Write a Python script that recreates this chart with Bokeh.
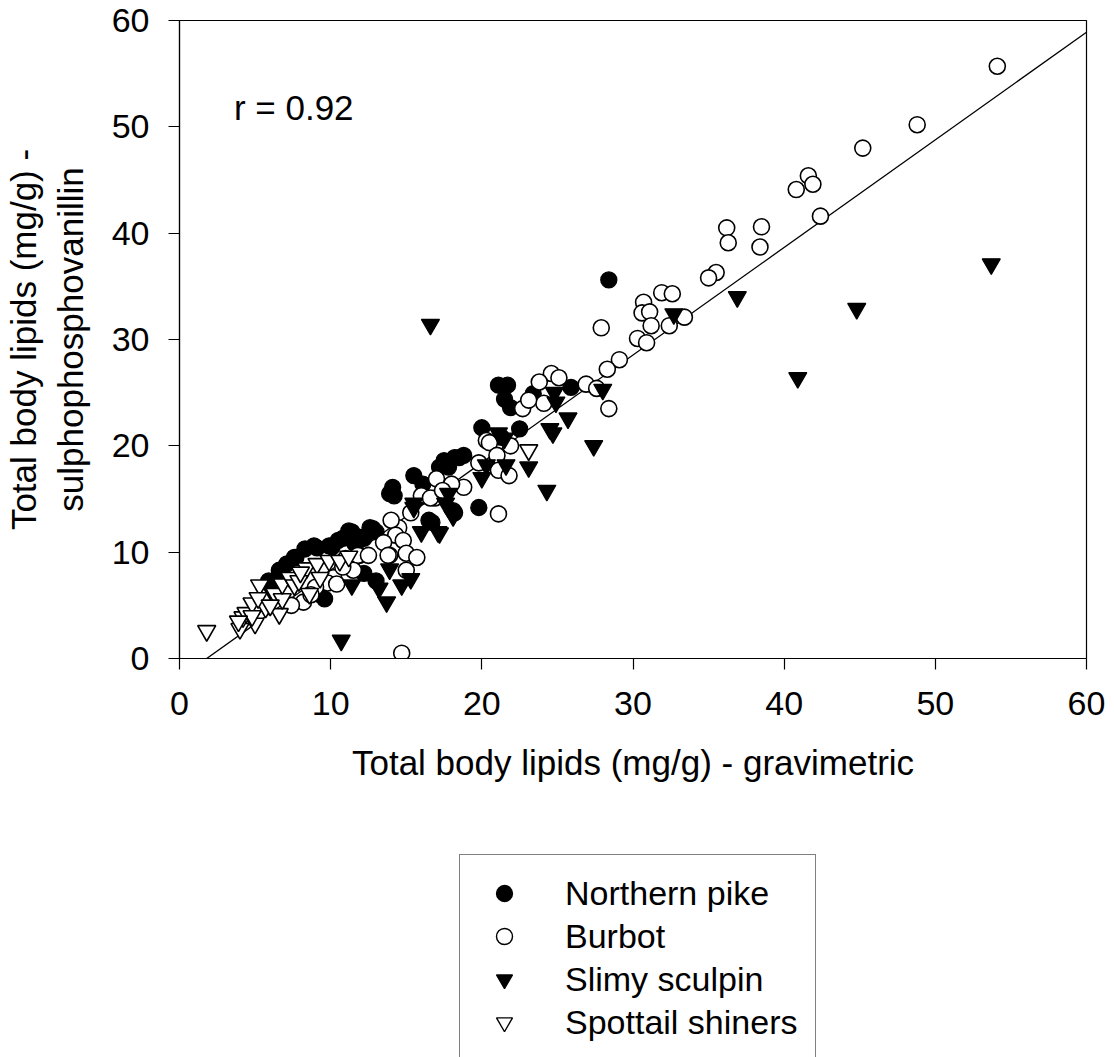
from bokeh.plotting import figure
from bokeh.layouts import column
from bokeh.models import Legend, LegendItem, Range1d, FixedTicker, Label
from bokeh.embed import file_html
from bokeh.resources import INLINE

# ---------------- data ----------------
pike_x = [28.4, 21.1, 21.7, 21.5, 21.9, 25.9, 23.4, 22.5, 20.0, 21.3, 17.5, 18.2, 18.8, 18.5,
          17.2, 17.8, 15.5, 19.8, 18.1, 18.2, 16.7, 16.5, 14.1, 13.9, 14.2, 16.1, 12.6, 12.8,
          13.0, 11.4, 11.2, 12.0, 12.2, 10.8, 10.5, 9.9, 9.1, 8.9, 8.3, 7.7, 7.6, 7.1, 6.6,
          5.9, 9.6, 9.3, 12.2, 13.0, 10.1, 11.6]
pike_y = [35.6, 25.7, 25.7, 24.4, 23.6, 25.5, 24.9, 21.6, 21.7, 20.8, 18.6, 18.9, 19.1, 18.9,
          18.0, 18.0, 17.2, 14.2, 13.9, 13.7, 12.8, 13.0, 16.1, 15.5, 15.3, 16.4, 12.3, 12.2,
          11.9, 11.9, 12.0, 11.4, 11.3, 11.3, 11.1, 10.6, 10.4, 10.6, 10.3, 9.5, 9.5, 8.9, 8.3,
          7.3, 5.6, 6.0, 8.0, 7.3, 10.5, 10.8]

burbot_x = [54.1, 48.8, 45.2, 41.6, 41.9, 40.8, 42.4, 36.2, 36.3, 38.5, 38.4, 35.5, 35.0, 31.9,
            32.6, 30.7, 30.6, 31.1, 31.2, 33.4, 32.4, 30.3, 30.9, 27.9, 29.1, 28.3, 26.9, 27.6,
            28.4, 24.6, 25.1, 23.8, 24.1, 22.7, 23.1, 20.3, 20.5, 21.9, 21.0, 19.8, 21.1, 21.8,
            18.8, 17.5, 17.0, 16.1, 16.9, 21.1, 15.3, 16.0, 16.6, 18.0, 17.4, 14.5, 14.0, 14.3,
            13.5, 14.8, 15.0, 15.7, 13.9, 11.9, 11.0, 11.8, 12.5, 11.5, 10.2, 9.8, 8.2, 7.4,
            9.0, 13.8, 14.7, 15.0, 10.4, 8.7, 10.8]
burbot_y = [55.7, 50.2, 48.0, 45.4, 44.6, 44.1, 41.6, 40.5, 39.1, 40.6, 38.7, 36.3, 35.8, 34.4,
            34.3, 33.5, 32.5, 32.6, 31.3, 32.1, 31.3, 30.1, 29.7, 31.1, 28.1, 27.2, 25.8, 25.4,
            23.5, 26.8, 26.4, 26.0, 24.0, 23.5, 24.3, 20.5, 20.3, 20.0, 19.1, 18.4, 17.7, 17.2,
            16.1, 16.1, 16.9, 15.3, 15.1, 13.6, 13.7, 15.3, 15.1, 16.4, 15.8, 12.3, 13.0, 11.6,
            10.9, 11.1, 9.9, 9.5, 9.7, 9.7, 9.4, 9.7, 9.7, 8.3, 7.6, 7.1, 5.3, 5.0,
            6.7, 9.7, 0.5, 8.3, 7.0, 6.0, 8.6]

sculpin_x = [53.7, 36.9, 44.8, 32.7, 40.9, 28.0, 27.4, 16.6, 10.7, 24.8, 24.9, 25.7, 24.5, 24.7,
             21.1, 21.5, 23.1, 24.3, 20.3, 21.6, 20.0, 17.8, 18.1, 16.0, 17.1, 15.5, 15.5, 17.6,
             17.2, 11.4, 13.2, 13.7, 14.7, 15.3, 13.9, 6.0]
sculpin_y = [37.1, 34.0, 32.9, 32.4, 26.4, 25.3, 20.0, 31.4, 1.7, 25.0, 24.1, 22.6, 21.6, 21.2,
             21.2, 20.7, 18.0, 15.8, 18.2, 18.2, 17.0, 15.5, 13.4, 11.9, 11.9, 14.6, 14.2, 14.6,
             11.8, 6.9, 6.6, 5.3, 6.9, 7.5, 8.4, 6.5]

shiner_x = [1.8, 4.0, 4.2, 4.4, 4.8, 5.0, 5.3, 5.7, 6.3, 6.6, 6.8, 6.8, 7.3, 7.6, 8.4, 9.1, 8.6,
            9.3, 9.9, 10.6, 5.2, 4.8, 23.1, 7.9, 6.0, 8.0, 11.2, 3.9]
shiner_y = [2.6, 2.8, 3.9, 4.3, 5.2, 3.3, 6.9, 4.8, 6.1, 4.2, 5.6, 7.0, 7.6, 6.9, 8.5, 8.9, 6.1,
            7.6, 9.2, 9.2, 5.7, 4.0, 19.6, 7.3, 5.0, 8.1, 9.6, 3.5]

species = ["Northern pike", "Burbot", "Slimy sculpin", "Spottail shiners"]

fit_slope = 1.012
fit_intercept = -1.82
r_value = 0.92

x_ticks = [0, 10, 20, 30, 40, 50, 60]
y_ticks = [0, 10, 20, 30, 40, 50, 60]

FONT = "Liberation Sans"
W = 1114
H_MAIN = 790
H_LEG = 1057 - H_MAIN

p = figure(width=W, height=H_MAIN, output_backend="svg", toolbar_location=None,
           x_range=Range1d(0, 60), y_range=Range1d(0, 60),
           min_border_left=178, min_border_right=28, min_border_top=20,
           min_border_bottom=H_MAIN - 658,
           background_fill_color="white", border_fill_color="white")
p.outline_line_color = "black"
p.outline_line_width = 1.2
p.xgrid.visible = False
p.ygrid.visible = False

for ax, ticks in ((p.xaxis, x_ticks), (p.yaxis, y_ticks)):
    ax.ticker = FixedTicker(ticks=ticks)
    ax.major_tick_in = 0
    ax.major_tick_out = 11
    ax.minor_tick_in = 0
    ax.minor_tick_out = 0
    ax.axis_line_color = "black"
    ax.axis_line_width = 1.2
    ax.major_tick_line_color = "black"
    ax.major_tick_line_width = 1.2
    ax.major_label_text_font = FONT
    ax.major_label_text_font_size = "34px"
    ax.major_label_text_color = "black"
    ax.axis_label_text_font = FONT
    ax.axis_label_text_font_size = "35px"
    ax.axis_label_text_font_style = "normal"
    ax.axis_label_text_color = "black"

p.xaxis.axis_label = "Total body lipids (mg/g) - gravimetric"
p.yaxis.axis_label = "Total body lipids (mg/g) -\nsulphophosphovanillin"
p.xaxis.major_label_standoff = 22
p.yaxis.major_label_standoff = 19
p.xaxis.axis_label_standoff = 25
p.yaxis.axis_label_standoff = 19

# regression line
x0 = -fit_intercept / fit_slope
lx = [x0, 60]
ly = [fit_slope * v + fit_intercept for v in lx]
p.line(lx, ly, line_color="black", line_width=1.3)

p.scatter(pike_x, pike_y, marker="circle", size=16, fill_color="black",
          line_color="black", line_width=1.3)
p.scatter(burbot_x, burbot_y, marker="circle", size=16, fill_color="white",
          line_color="black", line_width=1.6)
p.scatter(sculpin_x, sculpin_y, marker="inverted_triangle", size=18, fill_color="black",
          line_color="black", line_width=1.3)
p.scatter(shiner_x, shiner_y, marker="inverted_triangle", size=18, fill_color="white",
          line_color="black", line_width=1.6)

p.add_layout(Label(x=3.6, y=51.8, text=f"r = {r_value}", text_font=FONT,
                   text_font_size="35px", text_baseline="middle", text_color="black"))

# ---------------- legend panel (below the plot) ----------------
# ranges chosen so that the single proxy point of each series lies outside the panel
q = figure(width=W, height=H_LEG, output_backend="svg", toolbar_location=None,
           x_range=Range1d(1000, 2000), y_range=Range1d(1000, 2000),
           x_axis_type=None, y_axis_type=None,
           min_border_left=0, min_border_right=0, min_border_top=0, min_border_bottom=0,
           background_fill_color="white", border_fill_color="white")
q.outline_line_color = None
q.xgrid.visible = False
q.ygrid.visible = False

series = [(pike_x, pike_y, "circle", "black", 1.3),
          (burbot_x, burbot_y, "circle", "white", 1.4),
          (sculpin_x, sculpin_y, "inverted_triangle", "black", 1.3),
          (shiner_x, shiner_y, "inverted_triangle", "white", 1.4)]
items = []
for name, (sx, sy, mk, fc, lw) in zip(species, series):
    rr = q.scatter(sx[:1], sy[:1], marker=mk, fill_color=fc, line_color="black", line_width=lw)
    items.append(LegendItem(label=name, renderers=[rr]))

# the panel's frame is aligned with the main plot's frame (left edge at 178 px)
legend = Legend(items=items, location=(280, -4),
                border_line_color="black", border_line_width=1.5,
                label_text_font=FONT, label_text_font_size="34px",
                label_text_color="black",
                glyph_width=52, glyph_height=40, label_height=40, spacing=3,
                padding=18, label_standoff=35, margin=0,
                background_fill_color="white", background_fill_alpha=1.0)
q.add_layout(legend, "center")

layout = column(p, q, spacing=0)
open("out.html", "w").write(file_html(layout, INLINE))
